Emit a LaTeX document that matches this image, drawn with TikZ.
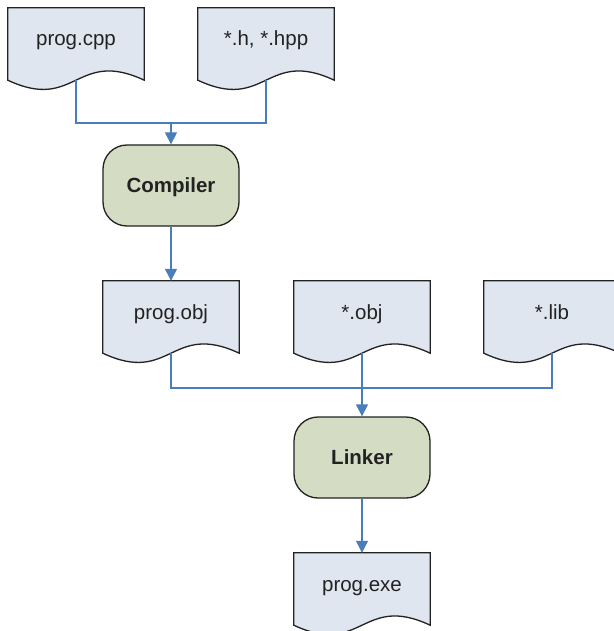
\documentclass[tikz,border=0pt]{standalone}
\usepackage{fontspec}
\setmainfont{Liberation Sans}
\usetikzlibrary{calc,backgrounds,arrows.meta}
\definecolor{docfill}{HTML}{DFE6F0}
\definecolor{procfill}{HTML}{D4DCC3}
\definecolor{conn}{HTML}{4A7EBB}
\definecolor{outl}{HTML}{222222}
\tikzset{
  docbox/.style={minimum width=136pt,minimum height=72pt,inner sep=0pt,
    text height=14pt,text depth=10pt,font=\fontsize{20.5}{24}\selectfont,text=outl},
  procbox/.style={draw=outl,line width=1.3pt,fill=procfill,rounded corners=24pt,
    minimum width=136pt,minimum height=81pt,inner sep=0pt,
    text height=15pt,text depth=2pt,font=\bfseries\fontsize{20.5}{24}\selectfont,text=outl},
  docline/.style={draw=outl,line width=1.3pt,fill=docfill},
  conline/.style={draw=conn,line width=1.3pt},
  conarrow/.style={conline,-{Triangle[width=12pt,length=12pt]}}
}
\newcommand{\docshape}[1]{%
  \path[docline] (#1.north west) -- (#1.south west)
    .. controls ($(#1.south)+(0,32)$) and ($(#1.south)+(0,-32)$) .. (#1.south east)
    -- (#1.north east) -- cycle;}
\begin{document}
\begin{tikzpicture}[x=1pt,y=-1pt]
\useasboundingbox (0,0) rectangle (613,631);
\clip (0,0) rectangle (613,631);
\node[docbox] (cpp) at (76,44) {prog.cpp};
\node[docbox] (hpp) at (266,44) {*.h, *.hpp};
\node[procbox] (comp) at (171,185.5) {Compiler};
\node[docbox] (pobj) at (171,317) {prog.obj};
\node[docbox] (obj) at (362,317) {*.obj};
\node[docbox] (lib) at (552,317) {*.lib};
\node[procbox] (lnk) at (362,457.5) {Linker};
\node[docbox] (exe) at (362,589) {prog.exe};
\coordinate (j1) at (171,123);
\coordinate (j2) at (362,388);
\begin{scope}[on background layer]
  \docshape{cpp}
  \docshape{hpp}
  \docshape{pobj}
  \docshape{obj}
  \docshape{lib}
  \docshape{exe}
\end{scope}
\draw[conline] (cpp.south) |- (j1) -| (hpp.south);
\draw[conarrow] (j1) -- (comp.north);
\draw[conarrow] (comp.south) -- (pobj.north);
\draw[conline] (pobj.south) |- (j2) -| (lib.south);
\draw[conarrow] (obj.south) -- (lnk.north);
\draw[conarrow] (lnk.south) -- (exe.north);
\end{tikzpicture}
\end{document}
